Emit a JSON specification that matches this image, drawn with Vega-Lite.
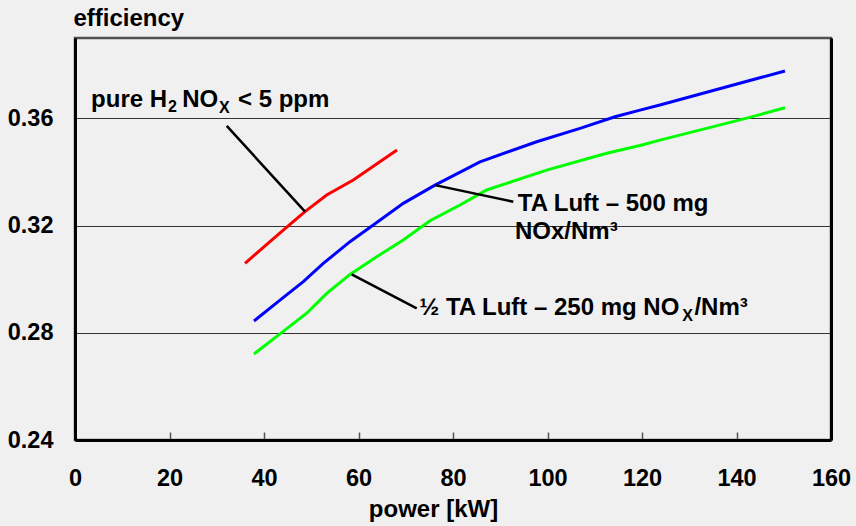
{
  "$schema": "https://vega.github.io/schema/vega-lite/v6.json",
  "width": 756,
  "height": 402,
  "autosize": "none",
  "padding": {"left": 75, "top": 38, "right": 25, "bottom": 86},
  "background": "#f0f0f0",
  "config": {
    "view": {"stroke": "#505050", "strokeWidth": 2.5},
    "font": "Liberation Sans",
    "axis": {
      "labelFont": "Liberation Sans",
      "titleFont": "Liberation Sans",
      "labelFontSize": 23.5,
      "titleFontSize": 24,
      "labelFontWeight": "bold",
      "titleFontWeight": "bold",
      "labelColor": "#000000",
      "titleColor": "#000000",
      "domainColor": "#000000",
      "domainWidth": 3
    }
  },
  "datasets": {
    "curves": [
      {"x": 35.98, "y": 0.3059, "s": "pure H2"},
      {"x": 41.63, "y": 0.3146, "s": "pure H2"},
      {"x": 45.5, "y": 0.3205, "s": "pure H2"},
      {"x": 48.68, "y": 0.3252, "s": "pure H2"},
      {"x": 53.27, "y": 0.3314, "s": "pure H2"},
      {"x": 58.9, "y": 0.337, "s": "pure H2"},
      {"x": 68.15, "y": 0.3482, "s": "pure H2"},
      {"x": 37.88, "y": 0.2844, "s": "TA Luft"},
      {"x": 43.39, "y": 0.2922, "s": "TA Luft"},
      {"x": 48.32, "y": 0.2991, "s": "TA Luft"},
      {"x": 52.55, "y": 0.3059, "s": "TA Luft"},
      {"x": 58.2, "y": 0.314, "s": "TA Luft"},
      {"x": 63.13, "y": 0.3202, "s": "TA Luft"},
      {"x": 69.48, "y": 0.3283, "s": "TA Luft"},
      {"x": 76.19, "y": 0.3351, "s": "TA Luft"},
      {"x": 85.71, "y": 0.3438, "s": "TA Luft"},
      {"x": 97.71, "y": 0.3513, "s": "TA Luft"},
      {"x": 106.88, "y": 0.3563, "s": "TA Luft"},
      {"x": 114.29, "y": 0.3606, "s": "TA Luft"},
      {"x": 119.58, "y": 0.3631, "s": "TA Luft"},
      {"x": 123.8, "y": 0.365, "s": "TA Luft"},
      {"x": 150.26, "y": 0.3777, "s": "TA Luft"},
      {"x": 37.88, "y": 0.2721, "s": "half TA Luft"},
      {"x": 43.39, "y": 0.2796, "s": "half TA Luft"},
      {"x": 49.04, "y": 0.2873, "s": "half TA Luft"},
      {"x": 53.27, "y": 0.2947, "s": "half TA Luft"},
      {"x": 58.2, "y": 0.3018, "s": "half TA Luft"},
      {"x": 63.85, "y": 0.3084, "s": "half TA Luft"},
      {"x": 69.48, "y": 0.3146, "s": "half TA Luft"},
      {"x": 75.13, "y": 0.3218, "s": "half TA Luft"},
      {"x": 81.48, "y": 0.3277, "s": "half TA Luft"},
      {"x": 87.13, "y": 0.3333, "s": "half TA Luft"},
      {"x": 99.83, "y": 0.3407, "s": "half TA Luft"},
      {"x": 112.53, "y": 0.347, "s": "half TA Luft"},
      {"x": 119.58, "y": 0.3499, "s": "half TA Luft"},
      {"x": 123.8, "y": 0.3519, "s": "half TA Luft"},
      {"x": 142.2, "y": 0.3601, "s": "half TA Luft"},
      {"x": 150.26, "y": 0.364, "s": "half TA Luft"}
    ],
    "leaders": [
      {"x": 32.11, "y": 0.3572, "id": "a"},
      {"x": 48.68, "y": 0.3252, "id": "a"},
      {"x": 76.19, "y": 0.3351, "id": "b"},
      {"x": 92.76, "y": 0.3289, "id": "b"},
      {"x": 58.56, "y": 0.3018, "id": "c"},
      {"x": 72.32, "y": 0.2891, "id": "c"}
    ],
    "labels": [
      {"t": "pure H", "x": 3.4, "y": 0.36437, "k": "main"},
      {"t": "2", "x": 19.7, "y": 0.36228, "k": "sub"},
      {"t": "NO", "x": 22.7, "y": 0.36437, "k": "main"},
      {"t": "X", "x": 30.45, "y": 0.36201, "k": "sub"},
      {"t": "< 5 ppm", "x": 34.5, "y": 0.36437, "k": "main"},
      {"t": "TA Luft – 500 mg", "x": 93.71, "y": 0.32556, "k": "main"},
      {"t": "NOx/Nm³", "x": 93.12, "y": 0.31489, "k": "main"},
      {"t": "½ TA Luft – 250 mg NO", "x": 72.87, "y": 0.28664, "k": "main"},
      {"t": "X", "x": 128.5, "y": 0.2844, "k": "sub"},
      {"t": "/Nm³", "x": 131.1, "y": 0.28664, "k": "main"}
    ]
  },
  "resolve": {"axis": {"y": "independent"}},
  "layer": [
    {
      "data": {"name": "curves"},
      "mark": {"type": "line", "strokeWidth": 3},
      "encoding": {
        "x": {
          "field": "x", "type": "quantitative",
          "scale": {"domain": [0, 160], "nice": false, "zero": false},
          "axis": {
            "values": [0, 20, 40, 60, 80, 100, 120, 140, 160],
            "grid": false,
            "tickSize": -8,
            "tickColor": "#555555",
            "tickWidth": 1.5,
            "labelPadding": 53,
            "labelBaseline": "alphabetic",
            "labelFlush": false,
            "title": "power [kW]",
            "titleX": 358,
            "titleY": 76.7,
            "titleAlign": "center",
            "titleBaseline": "alphabetic"
          }
        },
        "y": {
          "field": "y", "type": "quantitative",
          "scale": {"domain": [0.24, 0.39], "nice": false, "zero": false},
          "axis": {
            "values": [0.24, 0.28, 0.32, 0.36],
            "format": ".2f",
            "grid": true,
            "gridColor": "#333333",
            "gridWidth": 1,
            "ticks": false,
            "labelPadding": 22,
            "labelBaseline": "middle",
            "labelFlush": false,
            "title": "efficiency",
            "titleAngle": 0,
            "titleX": -2,
            "titleY": -13,
            "titleAlign": "left",
            "titleBaseline": "alphabetic"
          }
        },
        "color": {
          "field": "s", "type": "nominal",
          "scale": {"domain": ["pure H2", "TA Luft", "half TA Luft"], "range": ["#ff0000", "#0000ff", "#00ff00"]},
          "legend": null
        }
      }
    },
    {
      "data": {"name": "leaders"},
      "mark": {"type": "line", "color": "#000000", "strokeWidth": 2.5},
      "encoding": {
        "x": {"field": "x", "type": "quantitative"},
        "y": {
          "field": "y", "type": "quantitative",
          "axis": {"orient": "right", "labels": false, "ticks": false, "grid": false, "title": null, "domainColor": "#000000", "domainWidth": 3}
        },
        "detail": {"field": "id", "type": "nominal"}
      }
    },
    {
      "data": {"name": "labels"},
      "transform": [{"filter": "datum.k === 'main'"}],
      "mark": {"type": "text", "align": "left", "baseline": "alphabetic", "fontSize": 24, "fontWeight": "bold", "font": "Liberation Sans", "color": "#000000"},
      "encoding": {
        "x": {"field": "x", "type": "quantitative"},
        "y": {"field": "y", "type": "quantitative", "axis": null},
        "text": {"field": "t"}
      }
    },
    {
      "data": {"name": "labels"},
      "transform": [{"filter": "datum.k === 'sub'"}],
      "mark": {"type": "text", "align": "left", "baseline": "alphabetic", "fontSize": 16, "fontWeight": "bold", "font": "Liberation Sans", "color": "#000000"},
      "encoding": {
        "x": {"field": "x", "type": "quantitative"},
        "y": {"field": "y", "type": "quantitative", "axis": null},
        "text": {"field": "t"}
      }
    }
  ]
}
